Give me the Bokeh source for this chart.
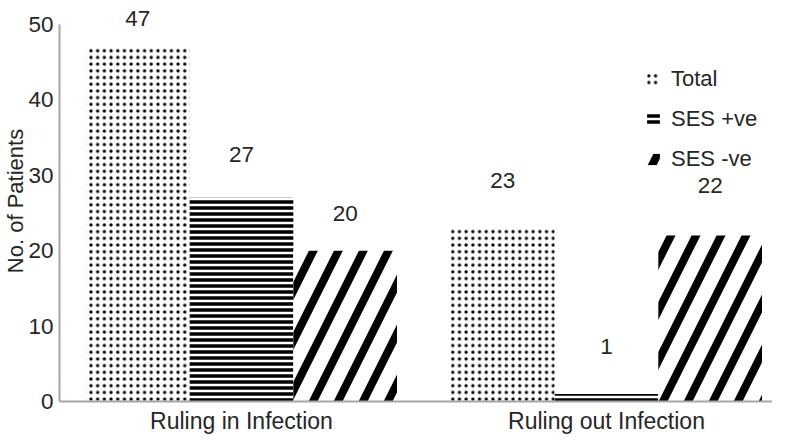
from bokeh.plotting import figure
from bokeh.models import Range1d, FixedTicker, ColumnDataSource, Legend, LegendItem
from bokeh.embed import file_html
from bokeh.resources import INLINE
from bokeh.core.properties import value

categories = ["Ruling in Infection", "Ruling out Infection"]
series_names = ["Total", "SES +ve", "SES -ve"]
total = [47, 23]
ses_pos = [27, 1]
ses_neg = [20, 22]
y_ticks = [0, 10, 20, 30, 40, 50]

FONT = "Liberation Sans"
TXT = "#262626"
AXIS = "#a6a6a6"

p = figure(width=772, height=436, output_backend="svg", toolbar_location=None,
           x_range=Range1d(0.0014, 1.9548), y_range=Range1d(0, 53.17),
           min_border_left=51, min_border_right=0, min_border_top=0,
           min_border_bottom=34)
p.outline_line_color = None
p.grid.visible = False

series_values = [total, ses_pos, ses_neg]
styles = [("dot", 6.7, 1), ("horizontal_line", 6, 3.5), ("right_diagonal_line", 50, 8)]
offsets = [-0.284, 0.0, 0.284]
lifts = [[29, 47.6], [43, 47], [37.5, 50]]

items = []
for name, vals, (pat, sc, wt), off, lift in zip(series_names, series_values, styles, offsets, lifts):
    src = ColumnDataSource(dict(
        x=[i + 0.5 + off for i in range(len(categories))],
        top=vals,
        label=[str(v) for v in vals],
        dy=[-l for l in lift],
    ))
    r = p.vbar(x="x", top="top", width=0.284, source=src, fill_color="white",
               line_color=None, hatch_pattern=pat, hatch_scale=sc,
               hatch_weight=wt, hatch_color="black")
    p.text(x="x", y="top", text="label", y_offset="dy", source=src,
           text_align="center", text_baseline="middle",
           text_font=value(FONT), text_font_size="22.5px", text_color=TXT)
    items.append(LegendItem(label=name, renderers=[r]))

legend = Legend(items=items, location=(586, 229.5), orientation="vertical",
                label_text_font=FONT, label_text_font_size="22px",
                label_text_color=TXT, label_height=25, glyph_height=14,
                glyph_width=16, spacing=14, label_standoff=10, padding=0,
                margin=0, border_line_color=None, background_fill_alpha=0)
p.add_layout(legend, "center")

p.xaxis.ticker = FixedTicker(ticks=[0.5, 1.5])
p.xaxis.major_label_overrides = {0.5: categories[0], 1.5: categories[1]}
p.yaxis.ticker = FixedTicker(ticks=y_ticks)
p.yaxis.bounds = (0, 50)
p.yaxis.axis_label = "No. of Patients"
p.yaxis.axis_label_standoff = -3
p.yaxis.axis_label_text_font = FONT
p.yaxis.axis_label_text_font_size = "22px"
p.yaxis.axis_label_text_font_style = "normal"
p.yaxis.axis_label_text_color = TXT
for ax in (p.xaxis, p.yaxis):
    ax.axis_line_color = AXIS
    ax.axis_line_width = 2
    ax.major_tick_line_color = None
    ax.minor_tick_line_color = None
    ax.major_tick_out = 0
    ax.major_tick_in = 0
    ax.major_label_text_font = FONT
    ax.major_label_text_font_size = "22.5px"
    ax.major_label_text_color = TXT
p.xaxis.major_label_text_font_size = "23px"
p.yaxis.major_label_standoff = 6
p.xaxis.major_label_standoff = 6

open("out.html", "w").write(file_html(p, INLINE))
